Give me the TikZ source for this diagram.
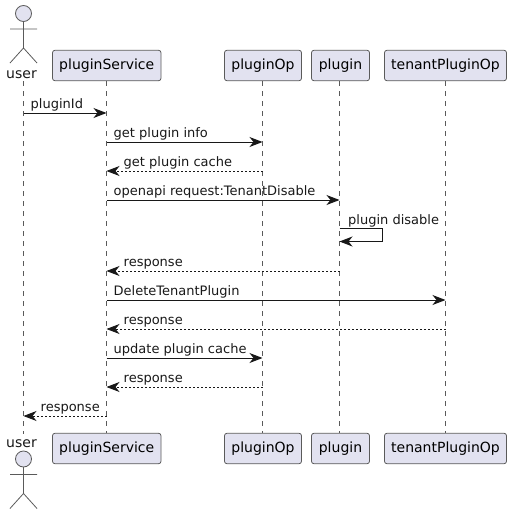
\documentclass[tikz,border=0pt]{standalone}
\usepackage{fontspec}
\setmainfont{DejaVu Sans}
\usetikzlibrary{arrows.meta}
\definecolor{boxfill}{HTML}{E2E2F0}
\definecolor{boxline}{HTML}{5A5A5A}
\definecolor{msgline}{HTML}{181818}
\tikzset{
  partbox/.style={draw=boxline, fill=boxfill, line width=0.8pt, rounded corners=2.5pt, minimum height=30.5pt, inner sep=0pt, font=\fontsize{14}{16}\selectfont},
  lifeline/.style={draw=boxline, line width=0.6pt, dash pattern=on 5pt off 5pt},
  actorline/.style={draw=boxline, line width=0.8pt},
  msgtext/.style={anchor=base west, inner sep=0pt, font=\fontsize{13}{15}\selectfont, text=msgline},
  actortext/.style={anchor=base, inner sep=0pt, font=\fontsize{14}{16}\selectfont, text=msgline},
  call/.style={draw=msgline, line width=1pt, -{Stealth[length=13pt,width=10pt,inset=4pt]}},
  reply/.style={call, line width=0.8pt, dash pattern=on 2pt off 2pt}
}
\begin{document}
\begin{tikzpicture}[x=1pt,y=-1pt]
    \useasboundingbox (0,0) rectangle (511,514);
    % Participants, top row
    \node[partbox, minimum width=108.5pt] (serviceTop) at (106.75,65.5) {pluginService};
    \node[partbox, minimum width=77pt] (opTop) at (263,65.5) {pluginOp};
    \node[partbox, minimum width=58pt] (pluginTop) at (340.5,65.5) {plugin};
    \node[partbox, minimum width=122pt] (tenantTop) at (445.5,65.5) {tenantPluginOp};

    % Participants, bottom row
    \node[partbox, minimum width=108.5pt] (serviceBottom) at (106.75,448.5) {pluginService};
    \node[partbox, minimum width=77pt] (opBottom) at (263,448.5) {pluginOp};
    \node[partbox, minimum width=58pt] (pluginBottom) at (340.5,448.5) {plugin};
    \node[partbox, minimum width=122pt] (tenantBottom) at (445.5,448.5) {tenantPluginOp};

    % Actor, top
    \draw[actorline, fill=boxfill] (23.5,13.5) circle (8);
    \draw[actorline] (23.5,21.5) -- (23.5,48) (10,29) -- (37,29) (10,63) -- (23.5,48) -- (37,63);
    \node[actortext] (userTop) at (21.5,78) {user};

    % Actor, bottom
    \node[actortext] (userBottom) at (21.5,447) {user};
    \draw[actorline, fill=boxfill] (23.5,459) circle (8);
    \draw[actorline] (23.5,467) -- (23.5,493.5) (10,474.5) -- (37,474.5) (10,508.5) -- (23.5,493.5) -- (37,508.5);

    % Lifelines
    \draw[lifeline] (23.5,81) -- (23.5,434);
    \draw[lifeline] (serviceTop.south -| 106.5,0) -- (serviceBottom.north -| 106.5,0);
    \draw[lifeline] (opTop.south -| 262.5,0) -- (opBottom.north -| 262.5,0);
    \draw[lifeline] (pluginTop.south -| 339.5,0) -- (pluginBottom.north -| 339.5,0);
    \draw[lifeline] (tenantTop.south -| 445.5,0) -- (tenantBottom.north -| 445.5,0);

    % Messages
    \coordinate (userX) at (23.5,0);
    \coordinate (serviceX) at (106.5,0);
    \coordinate (opX) at (262.5,0);
    \coordinate (pluginX) at (339.5,0);
    \coordinate (tenantX) at (445.5,0);

    \draw[call] (userX |- 0,113) -- (serviceX |- 0,113);
    \node[msgtext] (msgA) at (30.5,108) {pluginId};
    \draw[call] (serviceX |- 0,142) -- (opX |- 0,142);
    \node[msgtext] (msgB) at (113.5,137) {get plugin info};
    \draw[reply] (opX |- 0,171) -- (serviceX |- 0,171);
    \node[msgtext] (msgC) at (123.5,166) {get plugin cache};
    \draw[call] (serviceX |- 0,200) -- (pluginX |- 0,200);
    \node[msgtext] (msgD) at (113.5,195) {openapi request:TenantDisable};

    % Self call on plugin
    \draw[call] (pluginX |- 0,228.5) -- (382,228.5) -- (382,241.5) -- (pluginX |- 0,241.5);
    \node[msgtext] (msgE) at (348,224) {plugin disable};

    \draw[reply] (pluginX |- 0,271) -- (serviceX |- 0,271);
    \node[msgtext] (msgF) at (123.5,266) {response};
    \draw[call] (serviceX |- 0,300) -- (tenantX |- 0,300);
    \node[msgtext] (msgG) at (113.5,295) {DeleteTenantPlugin};
    \draw[reply] (tenantX |- 0,329) -- (serviceX |- 0,329);
    \node[msgtext] (msgH) at (123.5,324) {response};
    \draw[call] (serviceX |- 0,358) -- (opX |- 0,358);
    \node[msgtext] (msgI) at (113.5,353) {update plugin cache};
    \draw[reply] (opX |- 0,387) -- (serviceX |- 0,387);
    \node[msgtext] (msgJ) at (123.5,382) {response};
    \draw[reply] (serviceX |- 0,416) -- (userX |- 0,416);
    \node[msgtext] (msgK) at (40.5,411) {response};
\end{tikzpicture}
\end{document}
